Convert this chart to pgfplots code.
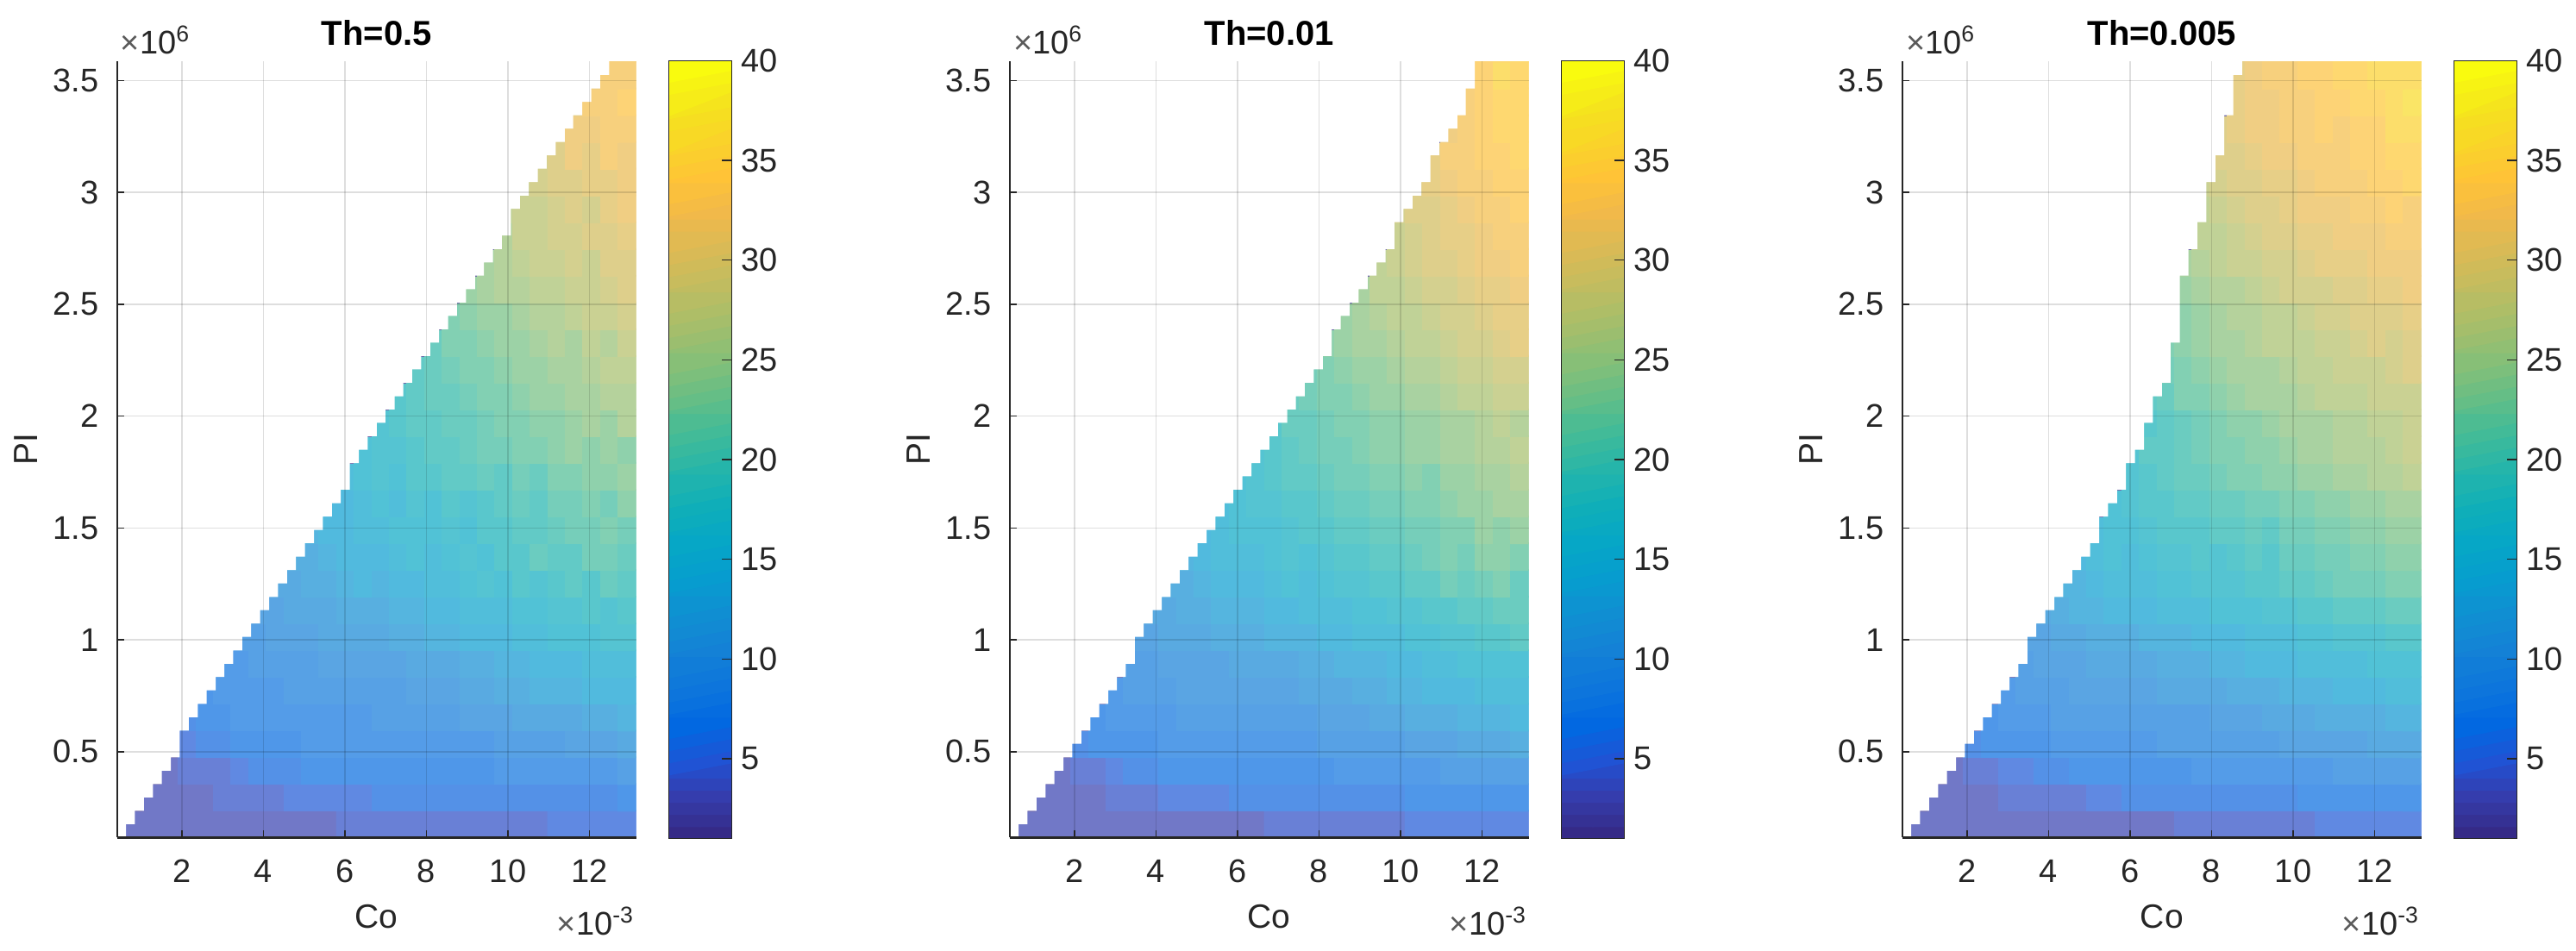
\documentclass[border=0pt]{standalone}
\usepackage{fontspec}
\setmainfont{Liberation Sans}
\usepackage{pgfplots}
\pgfplotsset{compat=1.18}
\definecolor{txt}{HTML}{262626}
\definecolor{txtl}{HTML}{5A5A5A}
\pgfplotsset{
  /pgf/number format/assume math mode=true,
  panel/.style={
    % parula seen through 70% opacity on white, as the cells are drawn
    colormap={paleparula}{rgb=(0.4457,0.4164,0.6704) rgb=(0.4457,0.4670,0.7740) rgb=(0.3877,0.5269,0.8812)
      rgb=(0.3042,0.5860,0.9180) rgb=(0.3349,0.6210,0.9049) rgb=(0.3545,0.6528,0.8869)
      rgb=(0.3449,0.6899,0.8768) rgb=(0.3186,0.7296,0.8695) rgb=(0.3160,0.7575,0.8438)
      rgb=(0.3413,0.7787,0.8078) rgb=(0.4017,0.7969,0.7652) rgb=(0.4810,0.8122,0.7168)
      rgb=(0.5767,0.8221,0.6671) rgb=(0.6710,0.8244,0.6263) rgb=(0.7531,0.8219,0.5932)
      rgb=(0.8268,0.8169,0.5638) rgb=(0.8955,0.8109,0.5352) rgb=(0.9615,0.8083,0.5020)
      rgb=(0.9993,0.8357,0.4515) rgb=(0.9852,0.8790,0.4143) rgb=(0.9712,0.9264,0.3792) rgb=(0.9834,0.9882,0.3377)},
    scale only axis, width=120.3pt, height=180pt,
    xmin=0.417, xmax=13.14, ymin=0.116, ymax=3.585,
    axis on top, clip mode=individual,
    axis x line*=bottom, axis y line*=left,
    axis line style={-, color=txt},
    x axis line style={line width=0.6pt},
    y axis line style={line width=0.35pt},
    xtick={2,4,6,8,10,12},
    ytick={0.5,1,1.5,2,2.5,3,3.5},
    yticklabels={0.5,1,1.5,2,2.5,3,3.5},
    scaled ticks=false,
    tick align=inside, major tick length=1.6pt,
    tick style={color=txt, line width=0.3pt},
    grid=major, grid style={black, opacity=0.13, line width=0.3pt},
    tick label style={font=\fontsize{7.6}{8}\selectfont, color=txt},
    yticklabel style={xshift=-0.8pt},
    xticklabel style={yshift=-1.6pt},
    label style={font=\fontsize{7.8}{9}\selectfont, color=txt},
    xlabel={Co}, xlabel style={at={(0.5,0)}, anchor=base, yshift=-21pt},
    ylabel={PI},
    ylabel style={at={(0,0.5)}, anchor=center, yshift=21.2pt, rotate=0},
    title style={at={(0.5,1)}, anchor=base, yshift=-2.3pt, font=\fontsize{8}{9}\selectfont\bfseries, color=black},
    point meta min=1, point meta max=40,
  },
  cbar/.style={
    colormap={parula}{rgb=(0.2081,0.1663,0.5292) rgb=(0.2081,0.2386,0.6771) rgb=(0.1253,0.3242,0.8303)
      rgb=(0.0060,0.4086,0.8828) rgb=(0.0498,0.4586,0.8641) rgb=(0.0779,0.5040,0.8384)
      rgb=(0.0641,0.5570,0.8240) rgb=(0.0265,0.6137,0.8135) rgb=(0.0228,0.6535,0.7768)
      rgb=(0.0590,0.6838,0.7254) rgb=(0.1453,0.7098,0.6646) rgb=(0.2586,0.7317,0.5954)
      rgb=(0.3953,0.7459,0.5244) rgb=(0.5300,0.7491,0.4661) rgb=(0.6473,0.7456,0.4188)
      rgb=(0.7525,0.7384,0.3768) rgb=(0.8507,0.7299,0.3360) rgb=(0.9450,0.7261,0.2886)
      rgb=(0.9990,0.7653,0.2164) rgb=(0.9789,0.8271,0.1633) rgb=(0.9589,0.8949,0.1132) rgb=(0.9763,0.9831,0.0538)},
    scale only axis, width=14.6pt, height=180.4pt,
    xmin=0, xmax=1, ymin=1, ymax=40,
    axis on top,
    xtick=\empty, ytick={5,10,...,40}, ytick pos=right, yticklabel pos=right,
    tick align=inside, major tick length=2.4pt,
    tick style={color=txt, line width=0.3pt},
    axis line style={color=txt, line width=0.35pt},
    tick label style={font=\fontsize{7.6}{8}\selectfont, color=txt},
    yticklabel style={xshift=-1.4pt},
    point meta min=0, point meta max=63,
  },
  cells/.style={matrix plot*, mesh/cols=29, mesh/ordering=x varies, shader=flat corner,
    point meta=explicit, forget plot},
  bands/.style={matrix plot*, mesh/cols=2, mesh/ordering=x varies, shader=flat corner,
    point meta=explicit, forget plot},
  stairs/.style={const plot mark right, fill=white, draw=none, mark=none, forget plot},
}
\newcommand{\powx}{\node[anchor=base east, inner sep=0pt, font=\fontsize{7.6}{8}\selectfont, color=txt] at (rel axis cs:1,0) [yshift=-22.7pt] {{\color{txtl}×}10\textsuperscript{-3}};}
\newcommand{\powy}{\node[anchor=base west, inner sep=0pt, font=\fontsize{7.6}{8}\selectfont, color=txt] at (rel axis cs:0,1) [xshift=0.6pt, yshift=1.8pt] {{\color{txtl}×}10\textsuperscript{6}};}
\begin{document}
\begin{tikzpicture}[x=1pt,y=1pt]
\path[use as bounding box] (0,0) rectangle (597.4,220.4);

% Th=0.5
\begin{axis}[panel, at={(27.2pt,26.12pt)}, anchor=south west, title={Th=0.5}]
\addplot[cells] table[row sep=\\, header=false, meta index=0,
  x expr={0.63+0.4314*(mod(\coordindex,29)+0.5)}, y expr={0.116+0.1196*(floor(\coordindex/29)+0.5)}] {
3\\3\\3\\3\\3\\3\\3\\3\\3\\3\\3\\3\\4\\4\\4\\4\\4\\4\\4\\4\\4\\4\\4\\4\\5\\5\\5\\5\\5\\
0\\3\\3\\3\\3\\4\\4\\4\\4\\5\\5\\5\\5\\5\\6\\6\\6\\6\\6\\6\\6\\6\\6\\6\\6\\6\\6\\6\\7\\
0\\0\\3\\4\\4\\4\\5\\6\\6\\6\\7\\7\\7\\7\\7\\7\\7\\7\\7\\7\\7\\8\\8\\8\\8\\8\\8\\8\\9\\
0\\0\\0\\5\\6\\6\\7\\7\\7\\7\\8\\8\\8\\8\\8\\8\\8\\8\\8\\8\\8\\9\\9\\9\\9\\10\\10\\10\\11\\
0\\0\\0\\6\\7\\7\\8\\8\\8\\8\\8\\8\\8\\8\\9\\9\\9\\9\\9\\10\\10\\10\\11\\11\\11\\11\\12\\12\\13\\
0\\0\\0\\0\\7\\8\\8\\8\\8\\9\\9\\9\\9\\9\\9\\9\\10\\10\\10\\11\\11\\12\\12\\13\\13\\13\\14\\14\\14\\
0\\0\\0\\0\\0\\8\\8\\9\\9\\9\\9\\10\\10\\10\\10\\10\\11\\11\\11\\12\\12\\13\\13\\14\\14\\14\\15\\15\\15\\
0\\0\\0\\0\\0\\0\\9\\9\\10\\10\\10\\11\\11\\11\\11\\12\\12\\13\\13\\14\\14\\14\\15\\15\\16\\16\\16\\17\\17\\
0\\0\\0\\0\\0\\0\\0\\10\\10\\11\\11\\11\\12\\12\\12\\13\\13\\14\\14\\15\\15\\15\\16\\16\\17\\17\\18\\17\\18\\
0\\0\\0\\0\\0\\0\\0\\0\\11\\11\\12\\12\\13\\14\\13\\14\\14\\15\\15\\16\\17\\16\\18\\17\\18\\19\\18\\20\\19\\
0\\0\\0\\0\\0\\0\\0\\0\\0\\12\\12\\13\\14\\14\\14\\15\\16\\15\\16\\17\\16\\18\\18\\20\\19\\19\\21\\21\\20\\
0\\0\\0\\0\\0\\0\\0\\0\\0\\0\\13\\14\\14\\15\\15\\16\\16\\16\\17\\16\\18\\18\\19\\19\\20\\21\\21\\22\\21\\
0\\0\\0\\0\\0\\0\\0\\0\\0\\0\\0\\14\\14\\15\\16\\15\\17\\16\\18\\17\\18\\19\\20\\19\\21\\21\\22\\21\\23\\
0\\0\\0\\0\\0\\0\\0\\0\\0\\0\\0\\0\\15\\16\\17\\16\\18\\18\\19\\19\\20\\19\\21\\20\\22\\22\\23\\23\\24\\
0\\0\\0\\0\\0\\0\\0\\0\\0\\0\\0\\0\\0\\16\\17\\17\\18\\19\\19\\20\\21\\21\\22\\22\\23\\24\\23\\24\\23\\
0\\0\\0\\0\\0\\0\\0\\0\\0\\0\\0\\0\\0\\0\\17\\18\\19\\19\\20\\20\\21\\22\\22\\23\\23\\24\\25\\24\\26\\
0\\0\\0\\0\\0\\0\\0\\0\\0\\0\\0\\0\\0\\0\\0\\18\\19\\20\\20\\21\\22\\22\\23\\24\\24\\25\\25\\26\\26\\
0\\0\\0\\0\\0\\0\\0\\0\\0\\0\\0\\0\\0\\0\\0\\0\\19\\20\\21\\22\\22\\23\\24\\24\\25\\25\\26\\27\\27\\
0\\0\\0\\0\\0\\0\\0\\0\\0\\0\\0\\0\\0\\0\\0\\0\\0\\20\\22\\22\\23\\24\\24\\25\\26\\25\\27\\26\\28\\
0\\0\\0\\0\\0\\0\\0\\0\\0\\0\\0\\0\\0\\0\\0\\0\\0\\0\\22\\23\\24\\24\\25\\26\\26\\27\\28\\28\\29\\
0\\0\\0\\0\\0\\0\\0\\0\\0\\0\\0\\0\\0\\0\\0\\0\\0\\0\\0\\24\\25\\26\\26\\27\\27\\28\\28\\29\\30\\
0\\0\\0\\0\\0\\0\\0\\0\\0\\0\\0\\0\\0\\0\\0\\0\\0\\0\\0\\0\\25\\26\\27\\28\\28\\29\\28\\30\\30\\
0\\0\\0\\0\\0\\0\\0\\0\\0\\0\\0\\0\\0\\0\\0\\0\\0\\0\\0\\0\\0\\26\\28\\28\\29\\29\\30\\30\\31\\
0\\0\\0\\0\\0\\0\\0\\0\\0\\0\\0\\0\\0\\0\\0\\0\\0\\0\\0\\0\\0\\27\\28\\28\\29\\30\\29\\31\\32\\
0\\0\\0\\0\\0\\0\\0\\0\\0\\0\\0\\0\\0\\0\\0\\0\\0\\0\\0\\0\\0\\0\\28\\29\\30\\30\\31\\31\\32\\
0\\0\\0\\0\\0\\0\\0\\0\\0\\0\\0\\0\\0\\0\\0\\0\\0\\0\\0\\0\\0\\0\\0\\29\\30\\32\\31\\33\\32\\
0\\0\\0\\0\\0\\0\\0\\0\\0\\0\\0\\0\\0\\0\\0\\0\\0\\0\\0\\0\\0\\0\\0\\0\\30\\32\\32\\33\\33\\
0\\0\\0\\0\\0\\0\\0\\0\\0\\0\\0\\0\\0\\0\\0\\0\\0\\0\\0\\0\\0\\0\\0\\0\\0\\31\\33\\33\\34\\
0\\0\\0\\0\\0\\0\\0\\0\\0\\0\\0\\0\\0\\0\\0\\0\\0\\0\\0\\0\\0\\0\\0\\0\\0\\0\\32\\33\\33\\
0\\0\\0\\0\\0\\0\\0\\0\\0\\0\\0\\0\\0\\0\\0\\0\\0\\0\\0\\0\\0\\0\\0\\0\\0\\0\\33\\33\\33\\
};
\addplot[stairs] coordinates {(0.417,0.116)(0.63,0.116)(0.85,0.176)(1.07,0.236)(1.29,0.295)(1.51,0.355)(1.73,0.415)(1.95,0.475)
 (2.17,0.594)(2.39,0.654)(2.61,0.714)(2.83,0.774)(3.04,0.834)(3.26,0.893)(3.48,0.953)(3.70,1.013)(3.92,1.073)(4.14,1.133)(4.36,1.192)
 (4.58,1.252)(4.80,1.312)(5.02,1.372)(5.24,1.432)(5.46,1.491)(5.68,1.551)(5.90,1.611)(6.12,1.671)(6.34,1.790)(6.56,1.850)(6.78,1.910)
 (6.99,1.970)(7.22,2.030)(7.43,2.089)(7.65,2.149)(7.87,2.209)(8.09,2.269)(8.31,2.329)(8.53,2.388)(8.75,2.448)(8.97,2.508)(9.19,2.568)
 (9.41,2.628)(9.63,2.687)(9.85,2.747)(10.07,2.807)(10.29,2.927)(10.51,2.986)(10.73,3.046)(10.95,3.106)(11.17,3.166)(11.39,3.226)
 (11.60,3.285)(11.82,3.345)(12.04,3.405)(12.26,3.465)(12.48,3.525)(12.48,3.6)(0.417,3.6)} --cycle;
\powx \powy
\end{axis}
\begin{axis}[cbar, at={(155.1pt,25.92pt)}, anchor=south west]
\addplot[bands] table[row sep=\\, header=false, meta index=0,
  x expr={0.25+0.5*mod(\coordindex,2)}, y expr={1+0.609375*(floor(\coordindex/2)+0.5)}] {
0\\0\\1\\1\\2\\2\\3\\3\\4\\4\\5\\5\\6\\6\\7\\7\\8\\8\\9\\9\\10\\10\\11\\11\\12\\12\\13\\13\\14\\14\\15\\15\\
16\\16\\17\\17\\18\\18\\19\\19\\20\\20\\21\\21\\22\\22\\23\\23\\24\\24\\25\\25\\26\\26\\27\\27\\28\\28\\29\\29\\30\\30\\31\\31\\
32\\32\\33\\33\\34\\34\\35\\35\\36\\36\\37\\37\\38\\38\\39\\39\\40\\40\\41\\41\\42\\42\\43\\43\\44\\44\\45\\45\\46\\46\\47\\47\\
48\\48\\49\\49\\50\\50\\51\\51\\52\\52\\53\\53\\54\\54\\55\\55\\56\\56\\57\\57\\58\\58\\59\\59\\60\\60\\61\\61\\62\\62\\63\\63\\63\\63\\
};
\end{axis}

% Th=0.01
\begin{axis}[panel, at={(234.2pt,26.12pt)}, anchor=south west, title={Th=0.01}]
\addplot[cells] table[row sep=\\, header=false, meta index=0,
  x expr={0.63+0.4314*(mod(\coordindex,29)+0.5)}, y expr={0.116+0.1196*(floor(\coordindex/29)+0.5)}] {
3\\3\\3\\3\\3\\3\\3\\3\\3\\3\\3\\3\\3\\3\\4\\4\\4\\4\\4\\4\\4\\4\\5\\5\\5\\5\\5\\5\\5\\
0\\3\\3\\3\\3\\4\\4\\4\\5\\5\\5\\5\\6\\6\\6\\6\\6\\6\\6\\6\\6\\6\\7\\7\\7\\7\\7\\7\\7\\
0\\0\\3\\4\\4\\5\\6\\6\\7\\7\\7\\7\\7\\7\\7\\7\\7\\7\\8\\8\\8\\8\\8\\8\\9\\9\\9\\9\\9\\
0\\0\\0\\6\\7\\7\\7\\7\\8\\8\\8\\8\\8\\8\\8\\8\\8\\9\\9\\9\\9\\9\\10\\10\\10\\11\\11\\11\\12\\
0\\0\\0\\0\\7\\8\\8\\8\\8\\9\\9\\9\\9\\9\\9\\9\\9\\10\\10\\10\\11\\11\\12\\12\\12\\13\\13\\13\\14\\
0\\0\\0\\0\\0\\8\\9\\9\\9\\10\\10\\10\\10\\10\\10\\10\\11\\11\\11\\12\\12\\13\\13\\14\\14\\14\\15\\15\\15\\
0\\0\\0\\0\\0\\0\\9\\9\\10\\10\\10\\10\\11\\11\\11\\11\\12\\12\\13\\13\\13\\14\\14\\15\\15\\16\\16\\16\\16\\
0\\0\\0\\0\\0\\0\\10\\10\\11\\11\\11\\12\\12\\12\\13\\13\\13\\14\\14\\15\\15\\15\\16\\16\\17\\17\\18\\18\\19\\
0\\0\\0\\0\\0\\0\\0\\11\\11\\12\\12\\13\\13\\13\\14\\14\\15\\15\\15\\16\\16\\17\\17\\18\\18\\19\\19\\20\\20\\
0\\0\\0\\0\\0\\0\\0\\0\\12\\12\\13\\14\\14\\14\\15\\16\\15\\16\\17\\17\\18\\18\\19\\19\\21\\20\\21\\22\\20\\
0\\0\\0\\0\\0\\0\\0\\0\\0\\13\\14\\15\\15\\15\\16\\17\\16\\17\\18\\18\\19\\19\\20\\21\\22\\21\\23\\23\\22\\
0\\0\\0\\0\\0\\0\\0\\0\\0\\0\\14\\15\\16\\16\\16\\17\\18\\18\\19\\19\\20\\20\\21\\21\\22\\22\\24\\23\\24\\
0\\0\\0\\0\\0\\0\\0\\0\\0\\0\\0\\15\\16\\17\\17\\18\\18\\19\\20\\20\\21\\21\\22\\22\\23\\24\\24\\25\\25\\
0\\0\\0\\0\\0\\0\\0\\0\\0\\0\\0\\0\\16\\17\\18\\19\\19\\20\\21\\21\\22\\22\\23\\22\\24\\24\\25\\25\\26\\
0\\0\\0\\0\\0\\0\\0\\0\\0\\0\\0\\0\\0\\17\\18\\19\\20\\21\\21\\22\\23\\23\\24\\24\\25\\25\\26\\26\\27\\
0\\0\\0\\0\\0\\0\\0\\0\\0\\0\\0\\0\\0\\0\\18\\20\\20\\21\\22\\22\\23\\23\\24\\24\\25\\25\\26\\27\\26\\
0\\0\\0\\0\\0\\0\\0\\0\\0\\0\\0\\0\\0\\0\\0\\20\\21\\22\\22\\23\\24\\24\\25\\25\\26\\27\\27\\28\\28\\
0\\0\\0\\0\\0\\0\\0\\0\\0\\0\\0\\0\\0\\0\\0\\0\\21\\22\\23\\24\\24\\25\\26\\26\\27\\28\\28\\29\\29\\
0\\0\\0\\0\\0\\0\\0\\0\\0\\0\\0\\0\\0\\0\\0\\0\\0\\23\\24\\25\\25\\26\\27\\27\\28\\29\\29\\30\\31\\
0\\0\\0\\0\\0\\0\\0\\0\\0\\0\\0\\0\\0\\0\\0\\0\\0\\0\\24\\25\\26\\27\\27\\28\\29\\29\\30\\31\\31\\
0\\0\\0\\0\\0\\0\\0\\0\\0\\0\\0\\0\\0\\0\\0\\0\\0\\0\\0\\25\\27\\27\\28\\29\\29\\30\\31\\31\\32\\
0\\0\\0\\0\\0\\0\\0\\0\\0\\0\\0\\0\\0\\0\\0\\0\\0\\0\\0\\0\\27\\28\\29\\30\\30\\31\\32\\32\\33\\
0\\0\\0\\0\\0\\0\\0\\0\\0\\0\\0\\0\\0\\0\\0\\0\\0\\0\\0\\0\\0\\28\\29\\30\\31\\31\\32\\33\\33\\
0\\0\\0\\0\\0\\0\\0\\0\\0\\0\\0\\0\\0\\0\\0\\0\\0\\0\\0\\0\\0\\29\\30\\30\\31\\32\\33\\33\\34\\
0\\0\\0\\0\\0\\0\\0\\0\\0\\0\\0\\0\\0\\0\\0\\0\\0\\0\\0\\0\\0\\0\\30\\31\\32\\33\\33\\34\\34\\
0\\0\\0\\0\\0\\0\\0\\0\\0\\0\\0\\0\\0\\0\\0\\0\\0\\0\\0\\0\\0\\0\\0\\31\\33\\33\\34\\34\\35\\
0\\0\\0\\0\\0\\0\\0\\0\\0\\0\\0\\0\\0\\0\\0\\0\\0\\0\\0\\0\\0\\0\\0\\0\\32\\33\\34\\35\\35\\
0\\0\\0\\0\\0\\0\\0\\0\\0\\0\\0\\0\\0\\0\\0\\0\\0\\0\\0\\0\\0\\0\\0\\0\\0\\33\\34\\35\\35\\
0\\0\\0\\0\\0\\0\\0\\0\\0\\0\\0\\0\\0\\0\\0\\0\\0\\0\\0\\0\\0\\0\\0\\0\\0\\33\\34\\36\\35\\
0\\0\\0\\0\\0\\0\\0\\0\\0\\0\\0\\0\\0\\0\\0\\0\\0\\0\\0\\0\\0\\0\\0\\0\\0\\33\\34\\35\\35\\
};
\addplot[stairs] coordinates {(0.417,0.116)(0.63,0.116)(0.85,0.176)(1.07,0.236)(1.29,0.295)(1.51,0.355)(1.73,0.415)(1.95,0.475)
 (2.17,0.535)(2.39,0.594)(2.61,0.654)(2.83,0.714)(3.04,0.774)(3.26,0.834)(3.48,0.893)(3.70,1.013)(3.92,1.073)(4.14,1.133)(4.36,1.192)
 (4.58,1.252)(4.80,1.312)(5.02,1.372)(5.24,1.432)(5.46,1.491)(5.68,1.551)(5.90,1.611)(6.12,1.671)(6.34,1.731)(6.56,1.790)(6.78,1.850)
 (6.99,1.910)(7.22,1.970)(7.43,2.030)(7.65,2.089)(7.87,2.149)(8.09,2.209)(8.31,2.269)(8.53,2.388)(8.75,2.448)(8.97,2.508)(9.19,2.568)
 (9.41,2.628)(9.63,2.687)(9.85,2.747)(10.07,2.867)(10.29,2.927)(10.51,2.986)(10.73,3.046)(10.95,3.166)(11.17,3.226)(11.39,3.285)
 (11.60,3.345)(11.82,3.465)(11.82,3.6)(0.417,3.6)} --cycle;
\powx \powy
\end{axis}
\begin{axis}[cbar, at={(362.1pt,25.92pt)}, anchor=south west]
\addplot[bands] table[row sep=\\, header=false, meta index=0,
  x expr={0.25+0.5*mod(\coordindex,2)}, y expr={1+0.609375*(floor(\coordindex/2)+0.5)}] {
0\\0\\1\\1\\2\\2\\3\\3\\4\\4\\5\\5\\6\\6\\7\\7\\8\\8\\9\\9\\10\\10\\11\\11\\12\\12\\13\\13\\14\\14\\15\\15\\
16\\16\\17\\17\\18\\18\\19\\19\\20\\20\\21\\21\\22\\22\\23\\23\\24\\24\\25\\25\\26\\26\\27\\27\\28\\28\\29\\29\\30\\30\\31\\31\\
32\\32\\33\\33\\34\\34\\35\\35\\36\\36\\37\\37\\38\\38\\39\\39\\40\\40\\41\\41\\42\\42\\43\\43\\44\\44\\45\\45\\46\\46\\47\\47\\
48\\48\\49\\49\\50\\50\\51\\51\\52\\52\\53\\53\\54\\54\\55\\55\\56\\56\\57\\57\\58\\58\\59\\59\\60\\60\\61\\61\\62\\62\\63\\63\\63\\63\\
};
\end{axis}

% Th=0.005
\begin{axis}[panel, at={(441.2pt,26.12pt)}, anchor=south west, title={Th=0.005}]
\addplot[cells] table[row sep=\\, header=false, meta index=0,
  x expr={0.63+0.4314*(mod(\coordindex,29)+0.5)}, y expr={0.116+0.1196*(floor(\coordindex/29)+0.5)}] {
3\\3\\3\\3\\3\\3\\3\\3\\3\\3\\3\\3\\3\\3\\3\\4\\4\\4\\4\\4\\4\\4\\4\\5\\5\\5\\5\\5\\5\\
0\\3\\3\\3\\3\\4\\4\\4\\4\\4\\5\\5\\6\\6\\6\\6\\6\\6\\6\\6\\6\\6\\7\\7\\7\\7\\7\\7\\7\\
0\\0\\3\\4\\4\\5\\5\\6\\6\\7\\7\\7\\7\\7\\7\\7\\8\\8\\8\\8\\8\\8\\8\\8\\9\\9\\9\\9\\9\\
0\\0\\0\\6\\7\\7\\7\\7\\8\\8\\8\\8\\8\\8\\9\\9\\9\\9\\9\\9\\9\\10\\10\\10\\10\\10\\11\\11\\11\\
0\\0\\0\\0\\7\\8\\8\\8\\9\\9\\9\\9\\9\\9\\9\\9\\9\\10\\10\\10\\11\\11\\11\\12\\12\\12\\12\\13\\13\\
0\\0\\0\\0\\0\\8\\9\\9\\9\\10\\10\\10\\10\\10\\11\\11\\11\\11\\12\\12\\12\\13\\13\\13\\14\\14\\14\\15\\15\\
0\\0\\0\\0\\0\\0\\9\\10\\10\\10\\11\\11\\11\\11\\12\\12\\12\\13\\13\\14\\14\\14\\15\\15\\15\\15\\16\\16\\16\\
0\\0\\0\\0\\0\\0\\10\\10\\11\\11\\12\\12\\12\\13\\13\\13\\14\\14\\14\\15\\15\\15\\16\\16\\17\\17\\17\\18\\18\\
0\\0\\0\\0\\0\\0\\0\\11\\12\\13\\13\\14\\14\\14\\15\\15\\15\\16\\16\\16\\17\\17\\18\\18\\19\\19\\19\\20\\20\\
0\\0\\0\\0\\0\\0\\0\\0\\13\\13\\14\\15\\15\\15\\16\\16\\17\\17\\17\\18\\18\\19\\19\\20\\21\\21\\21\\22\\22\\
0\\0\\0\\0\\0\\0\\0\\0\\0\\14\\15\\16\\15\\16\\17\\17\\18\\17\\18\\19\\18\\20\\20\\21\\21\\22\\22\\23\\23\\
0\\0\\0\\0\\0\\0\\0\\0\\0\\0\\15\\16\\16\\17\\18\\18\\18\\19\\19\\20\\19\\21\\21\\22\\22\\23\\23\\24\\24\\
0\\0\\0\\0\\0\\0\\0\\0\\0\\0\\0\\16\\17\\18\\18\\19\\19\\20\\20\\21\\21\\22\\22\\23\\23\\24\\24\\25\\25\\
0\\0\\0\\0\\0\\0\\0\\0\\0\\0\\0\\0\\17\\18\\19\\20\\20\\21\\22\\22\\23\\23\\24\\24\\25\\25\\26\\26\\27\\
0\\0\\0\\0\\0\\0\\0\\0\\0\\0\\0\\0\\17\\19\\19\\20\\21\\22\\22\\23\\23\\24\\25\\25\\26\\26\\26\\27\\28\\
0\\0\\0\\0\\0\\0\\0\\0\\0\\0\\0\\0\\0\\18\\19\\20\\21\\22\\23\\23\\24\\25\\25\\25\\26\\26\\27\\27\\28\\
0\\0\\0\\0\\0\\0\\0\\0\\0\\0\\0\\0\\0\\19\\20\\22\\22\\23\\24\\25\\25\\25\\26\\27\\27\\27\\28\\28\\28\\
0\\0\\0\\0\\0\\0\\0\\0\\0\\0\\0\\0\\0\\0\\21\\22\\23\\24\\25\\25\\25\\26\\27\\27\\28\\28\\28\\29\\30\\
0\\0\\0\\0\\0\\0\\0\\0\\0\\0\\0\\0\\0\\0\\22\\23\\24\\25\\25\\26\\27\\27\\27\\28\\28\\29\\30\\29\\30\\
0\\0\\0\\0\\0\\0\\0\\0\\0\\0\\0\\0\\0\\0\\0\\23\\24\\25\\26\\26\\27\\27\\28\\29\\29\\30\\30\\30\\31\\
0\\0\\0\\0\\0\\0\\0\\0\\0\\0\\0\\0\\0\\0\\0\\24\\25\\26\\26\\27\\28\\29\\29\\29\\30\\30\\31\\31\\32\\
0\\0\\0\\0\\0\\0\\0\\0\\0\\0\\0\\0\\0\\0\\0\\25\\26\\27\\28\\28\\29\\29\\30\\31\\31\\31\\32\\32\\32\\
0\\0\\0\\0\\0\\0\\0\\0\\0\\0\\0\\0\\0\\0\\0\\0\\27\\27\\28\\29\\30\\30\\31\\31\\32\\32\\32\\33\\33\\
0\\0\\0\\0\\0\\0\\0\\0\\0\\0\\0\\0\\0\\0\\0\\0\\27\\28\\29\\30\\30\\31\\32\\32\\32\\33\\33\\34\\33\\
0\\0\\0\\0\\0\\0\\0\\0\\0\\0\\0\\0\\0\\0\\0\\0\\28\\29\\30\\30\\31\\31\\32\\33\\33\\33\\34\\34\\35\\
0\\0\\0\\0\\0\\0\\0\\0\\0\\0\\0\\0\\0\\0\\0\\0\\0\\30\\30\\31\\32\\32\\33\\33\\33\\34\\34\\35\\35\\
0\\0\\0\\0\\0\\0\\0\\0\\0\\0\\0\\0\\0\\0\\0\\0\\0\\30\\31\\32\\32\\33\\33\\34\\33\\34\\34\\36\\36\\
0\\0\\0\\0\\0\\0\\0\\0\\0\\0\\0\\0\\0\\0\\0\\0\\0\\0\\31\\32\\32\\33\\33\\34\\34\\35\\35\\36\\37\\
0\\0\\0\\0\\0\\0\\0\\0\\0\\0\\0\\0\\0\\0\\0\\0\\0\\0\\31\\32\\33\\33\\34\\34\\35\\35\\36\\36\\36\\
0\\0\\0\\0\\0\\0\\0\\0\\0\\0\\0\\0\\0\\0\\0\\0\\0\\0\\31\\32\\33\\33\\34\\34\\35\\35\\36\\36\\36\\
};
\addplot[stairs] coordinates {(0.417,0.116)(0.63,0.116)(0.85,0.176)(1.07,0.236)(1.29,0.295)(1.51,0.355)(1.73,0.415)(1.95,0.475)
 (2.17,0.535)(2.39,0.594)(2.61,0.654)(2.83,0.714)(3.04,0.774)(3.26,0.834)(3.48,0.893)(3.70,1.013)(3.92,1.073)(4.14,1.133)(4.36,1.192)
 (4.58,1.252)(4.80,1.312)(5.02,1.372)(5.24,1.432)(5.46,1.551)(5.68,1.611)(5.90,1.671)(6.12,1.790)(6.34,1.850)(6.56,1.970)(6.78,2.089)
 (6.99,2.149)(7.22,2.329)(7.43,2.628)(7.65,2.747)(7.87,2.867)(8.09,3.046)(8.31,3.166)(8.53,3.345)(8.75,3.525)(8.75,3.6)(0.417,3.6)} --cycle;
\powx \powy
\end{axis}
\begin{axis}[cbar, at={(569.1pt,25.92pt)}, anchor=south west]
\addplot[bands] table[row sep=\\, header=false, meta index=0,
  x expr={0.25+0.5*mod(\coordindex,2)}, y expr={1+0.609375*(floor(\coordindex/2)+0.5)}] {
0\\0\\1\\1\\2\\2\\3\\3\\4\\4\\5\\5\\6\\6\\7\\7\\8\\8\\9\\9\\10\\10\\11\\11\\12\\12\\13\\13\\14\\14\\15\\15\\
16\\16\\17\\17\\18\\18\\19\\19\\20\\20\\21\\21\\22\\22\\23\\23\\24\\24\\25\\25\\26\\26\\27\\27\\28\\28\\29\\29\\30\\30\\31\\31\\
32\\32\\33\\33\\34\\34\\35\\35\\36\\36\\37\\37\\38\\38\\39\\39\\40\\40\\41\\41\\42\\42\\43\\43\\44\\44\\45\\45\\46\\46\\47\\47\\
48\\48\\49\\49\\50\\50\\51\\51\\52\\52\\53\\53\\54\\54\\55\\55\\56\\56\\57\\57\\58\\58\\59\\59\\60\\60\\61\\61\\62\\62\\63\\63\\63\\63\\
};
\end{axis}
\end{tikzpicture}
\end{document}
